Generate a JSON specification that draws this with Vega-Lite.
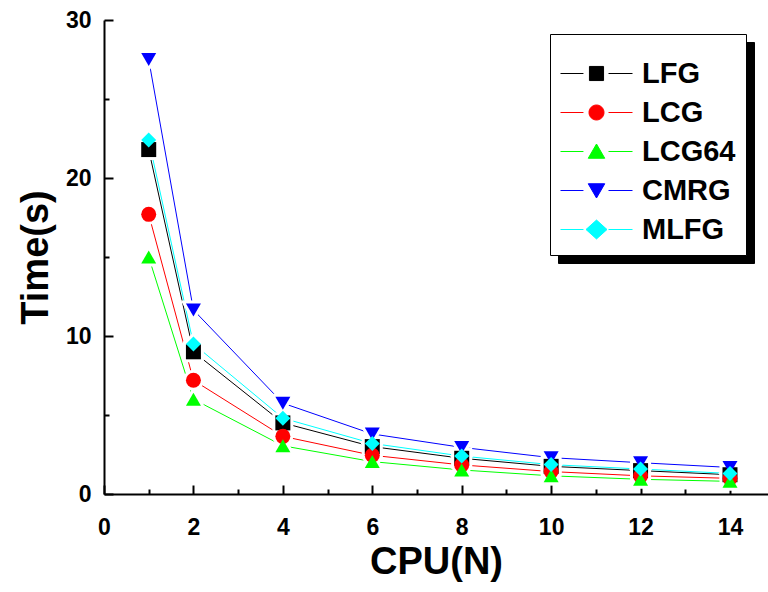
{
  "$schema": "https://vega.github.io/schema/vega-lite/v6.json",
  "width": 664,
  "height": 474,
  "autosize": {"type": "none"},
  "padding": {"left": 104, "top": 20, "right": 0, "bottom": 98},
  "background": "white",
  "config": {
    "view": {"stroke": null},
    "font": "Liberation Sans",
    "axis": {
      "domainColor": "black",
      "domainWidth": 2,
      "tickColor": "black",
      "tickWidth": 2,
      "grid": false,
      "labelFont": "Liberation Sans",
      "labelFontWeight": "bold",
      "labelFontSize": 23,
      "labelColor": "black",
      "titleFont": "Liberation Sans",
      "titleFontWeight": "bold",
      "titleFontSize": 38,
      "titleColor": "black"
    },
    "legend": {
      "labelFont": "Liberation Sans",
      "labelFontWeight": "bold",
      "labelFontSize": 29,
      "labelColor": "black"
    }
  },
  "data": {
    "values": [
      {"series": "LFG", "cpu": 1, "time": 21.8},
      {"series": "LFG", "cpu": 2, "time": 9.0},
      {"series": "LFG", "cpu": 4, "time": 4.5},
      {"series": "LFG", "cpu": 6, "time": 3.0},
      {"series": "LFG", "cpu": 8, "time": 2.26},
      {"series": "LFG", "cpu": 10, "time": 1.75},
      {"series": "LFG", "cpu": 12, "time": 1.48},
      {"series": "LFG", "cpu": 14, "time": 1.22},
      {"series": "LCG", "cpu": 1, "time": 17.7},
      {"series": "LCG", "cpu": 2, "time": 7.2},
      {"series": "LCG", "cpu": 4, "time": 3.65},
      {"series": "LCG", "cpu": 6, "time": 2.45},
      {"series": "LCG", "cpu": 8, "time": 1.84},
      {"series": "LCG", "cpu": 10, "time": 1.42},
      {"series": "LCG", "cpu": 12, "time": 1.15},
      {"series": "LCG", "cpu": 14, "time": 0.99},
      {"series": "LCG64", "cpu": 1, "time": 15.0},
      {"series": "LCG64", "cpu": 2, "time": 6.0},
      {"series": "LCG64", "cpu": 4, "time": 3.05},
      {"series": "LCG64", "cpu": 6, "time": 2.05},
      {"series": "LCG64", "cpu": 8, "time": 1.52},
      {"series": "LCG64", "cpu": 10, "time": 1.15},
      {"series": "LCG64", "cpu": 12, "time": 0.93},
      {"series": "LCG64", "cpu": 14, "time": 0.8},
      {"series": "CMRG", "cpu": 1, "time": 27.5},
      {"series": "CMRG", "cpu": 2, "time": 11.65},
      {"series": "CMRG", "cpu": 4, "time": 5.75},
      {"series": "CMRG", "cpu": 6, "time": 3.8},
      {"series": "CMRG", "cpu": 8, "time": 2.95},
      {"series": "CMRG", "cpu": 10, "time": 2.3},
      {"series": "CMRG", "cpu": 12, "time": 1.98},
      {"series": "CMRG", "cpu": 14, "time": 1.68},
      {"series": "MLFG", "cpu": 1, "time": 22.4},
      {"series": "MLFG", "cpu": 2, "time": 9.5},
      {"series": "MLFG", "cpu": 4, "time": 4.8},
      {"series": "MLFG", "cpu": 6, "time": 3.2},
      {"series": "MLFG", "cpu": 8, "time": 2.4},
      {"series": "MLFG", "cpu": 10, "time": 1.86},
      {"series": "MLFG", "cpu": 12, "time": 1.58},
      {"series": "MLFG", "cpu": 14, "time": 1.3}
    ]
  },
  "encoding": {
    "x": {
      "field": "cpu",
      "type": "quantitative",
      "title": "CPU(N)",
      "scale": {"domain": [0, 14.85], "nice": false, "zero": false},
      "axis": {
        "values": [0, 1, 2, 3, 4, 5, 6, 7, 8, 9, 10, 11, 12, 13, 14],
        "labelExpr": "datum.value % 2 === 0 ? datum.label : ''",
        "tickSize": -9,
        "tickDash": {"condition": {"test": "datum.value % 2 === 0", "value": []}, "value": [5, 30]},
        "labelPadding": 31,
        "labelFlush": false,
        "labelOverlap": false,
        "titlePadding": 4
      }
    },
    "y": {
      "field": "time",
      "type": "quantitative",
      "title": "Time(s)",
      "scale": {"domain": [0, 30], "nice": false},
      "axis": {
        "values": [0, 5, 10, 15, 20, 25, 30],
        "labelExpr": "datum.value % 10 === 0 ? datum.label : ''",
        "tickSize": -9,
        "tickDash": {"condition": {"test": "datum.value % 10 === 0", "value": []}, "value": [5, 30]},
        "labelPadding": 22,
        "labelFlush": false,
        "labelOverlap": false,
        "titlePadding": 10
      }
    }
  },
  "layer": [
    {
      "mark": {"type": "line", "strokeWidth": 1},
      "encoding": {
        "color": {
          "field": "series",
          "type": "nominal",
          "scale": {"domain": ["LFG", "LCG", "LCG64", "CMRG", "MLFG"], "range": ["#000000", "#ff0000", "#00ff00", "#0000ff", "#00ffff"]},
          "legend": null
        }
      }
    },
    {
      "mark": {"type": "point", "filled": true, "color": "white", "stroke": "white", "strokeWidth": 6, "opacity": 1},
      "encoding": {
        "detail": {"field": "series", "type": "nominal"},
        "shape": {
          "field": "series",
          "type": "nominal",
          "scale": {"domain": ["LFG", "LCG", "LCG64", "CMRG", "MLFG"], "range": ["square", "circle", "triangle-up", "triangle-down", "diamond"]},
          "legend": null
        },
        "size": {
          "field": "series",
          "type": "nominal",
          "scale": {"domain": ["LFG", "LCG", "LCG64", "CMRG", "MLFG"], "range": [225, 225, 400, 400, 400]},
          "legend": null
        }
      }
    },
    {
      "mark": {"type": "point", "filled": true, "opacity": 1},
      "encoding": {
        "color": {
          "field": "series",
          "type": "nominal",
          "scale": {"domain": ["LFG", "LCG", "LCG64", "CMRG", "MLFG"], "range": ["#000000", "#ff0000", "#00ff00", "#0000ff", "#00ffff"]},
          "legend": null
        },
        "shape": {
          "field": "series",
          "type": "nominal",
          "scale": {"domain": ["LFG", "LCG", "LCG64", "CMRG", "MLFG"], "range": ["square", "circle", "triangle-up", "triangle-down", "diamond"]},
          "legend": null
        },
        "size": {
          "field": "series",
          "type": "nominal",
          "scale": {"domain": ["LFG", "LCG", "LCG64", "CMRG", "MLFG"], "range": [225, 225, 400, 400, 400]},
          "legend": null
        }
      }
    },
    {
      "mark": {"type": "point", "filled": false, "opacity": 0},
      "encoding": {
        "color": {
          "field": "series",
          "type": "nominal",
          "title": " ",
          "scale": {"domain": ["LFG", "LCG", "LCG64", "CMRG", "MLFG"], "range": ["#000000", "#000000", "#000000", "#000000", "#000000"]},
          "legend": {
            "orient": "none",
            "legendX": 454,
            "legendY": 22,
            "fillColor": "black",
            "strokeColor": "black",
            "padding": 10,
            "titleFontSize": 10,
            "titlePadding": 4,
            "symbolSize": 900,
            "symbolOpacity": 0,
            "symbolStrokeWidth": 1,
            "symbolOffset": 21,
            "rowPadding": 8,
            "labelExpr": "''",
            "labelOffset": 124
          }
        }
      }
    },
    {
      "mark": {"type": "point", "filled": false, "opacity": 0, "strokeWidth": 1},
      "encoding": {
        "color": {
          "field": "series",
          "type": "nominal",
          "title": " ",
          "scale": {"domain": ["LFG", "LCG", "LCG64", "CMRG", "MLFG"], "range": ["#000000", "#ff0000", "#00ff00", "#0000ff", "#00ffff"]},
          "legend": {
            "orient": "none",
            "legendX": 446,
            "legendY": 14,
            "fillColor": "white",
            "strokeColor": "black",
            "padding": 10,
            "titleFontSize": 10,
            "titlePadding": 4,
            "symbolSize": 900,
            "symbolOpacity": 1,
            "symbolStrokeWidth": 1,
            "symbolOffset": 21,
            "rowPadding": 8,
            "labelOffset": 30
          }
        },
        "fill": {
          "field": "series",
          "type": "nominal",
          "title": " ",
          "scale": {"domain": ["LFG", "LCG", "LCG64", "CMRG", "MLFG"], "range": ["#000000", "#ff0000", "#00ff00", "#0000ff", "#00ffff"]}
        },
        "shape": {
          "field": "series",
          "type": "nominal",
          "title": " ",
          "scale": {
            "domain": ["LFG", "LCG", "LCG64", "CMRG", "MLFG"],
            "range": [
              "M-2.4,0H-0.87M0.8,0H2.4M-0.47,-0.47H0.47V0.47H-0.47Z",
              "M-2.4,0H-0.87M0.8,0H2.4M-0.5,0A0.5,0.5,0,1,0,0.5,0A0.5,0.5,0,1,0,-0.5,0Z",
              "M-2.4,0H-0.87M0.8,0H2.4M0,-0.5L0.55,0.45L-0.55,0.45Z",
              "M-2.4,0H-0.87M0.8,0H2.4M0,0.5L0.55,-0.45L-0.55,-0.45Z",
              "M-2.4,0H-0.87M0.8,0H2.4M0,-0.63L0.7,0L0,0.63L-0.7,0Z"
            ]
          }
        }
      }
    }
  ],
  "resolve": {"scale": {"color": "independent", "shape": "independent", "size": "independent", "fill": "independent"}}
}
